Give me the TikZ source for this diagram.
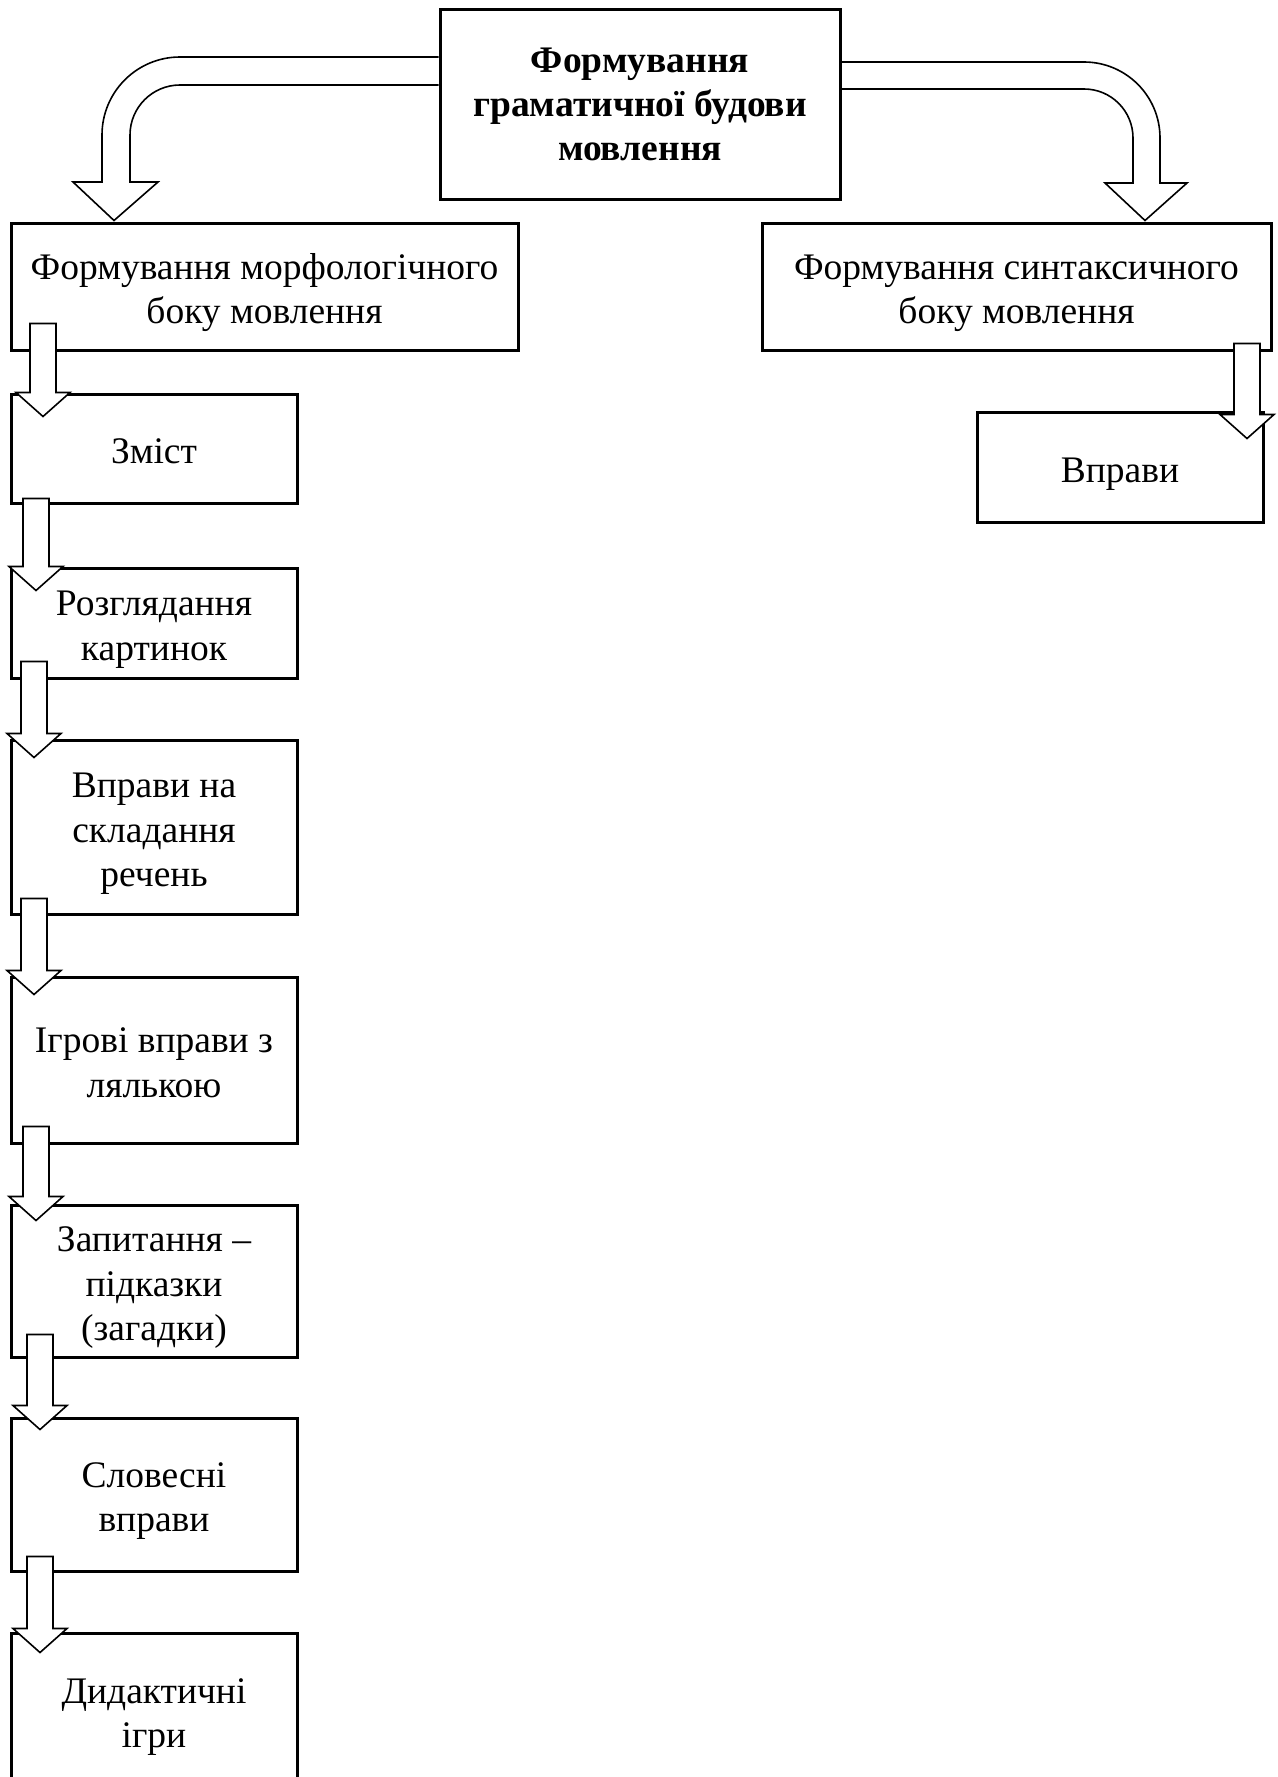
\documentclass[tikz,border=0pt]{standalone}
\usepackage{fontspec}
\setmainfont{Liberation Serif}
\usetikzlibrary{calc}
\newcommand\blkarrow[5]{%
 \draw[blk] let \p1=(#1.south), \p2=(#2.north) in
  ({#3pt-13pt},{\y1+(#4pt)}) -- ({#3pt+13pt},{\y1+(#4pt)}) -- ({#3pt+13pt},{\y2+(#5pt)})
  -- ({#3pt+27pt},{\y2+(#5pt)}) -- (#3pt,{\y2+(#5pt)-24pt}) -- ({#3pt-27pt},{\y2+(#5pt)})
  -- ({#3pt-13pt},{\y2+(#5pt)}) -- cycle;}
\newcommand\bs{\rule{0pt}{39.25pt}}
\newcommand\be{\rule[-9pt]{0pt}{9pt}}
\begin{document}
\begin{tikzpicture}[x=1pt,y=-1pt,
  box/.style={draw, line width=3pt, rectangle, inner sep=0pt, align=center,
    font=\fontsize{37.5}{44.5}\selectfont},
  lbox/.style={box, minimum width=286},
  blk/.style={draw, line width=1.6pt, fill=white, line join=miter},
  arr/.style={draw, line width=1.6pt, line join=miter}]
\clip (0,0) rectangle (1277,1777);
\fill[white] (0,0) rectangle (1277,1777);
% boxes
\node[box, minimum width=400, minimum height=189,
  font=\bfseries\fontsize{37.5}{44}\selectfont] (top) at (640,104.5)
  {Формування\\граматичної будови\\мовлення};
\node[box, minimum width=507, minimum height=127] (morph) at (264.5,286.5)
  {\bs Формування морфологічного\\боку мовлення\be};
\node[box, minimum width=509, minimum height=127] (synt) at (1016.5,286.5)
  {\bs Формування синтаксичного\\боку мовлення\be};
\node[box, minimum width=286, minimum height=110] (vpr) at (1120,467) {\bs Вправи\be};
\node[lbox, minimum height=109] (zmist) at (154,448.5) {\bs Зміст\be};
\node[lbox, minimum height=110] (rozgl) at (154,623) {\bs Розглядання\\картинок\be};
\node[lbox, minimum height=174] (sklad) at (154,827) {\bs Вправи на\\складання\\речень\be};
\node[lbox, minimum height=166] (igr) at (154,1060) {\bs Ігрові вправи з\\лялькою\be};
\node[lbox, minimum height=152] (zap) at (154,1281) {\bs Запитання –\\підказки\\(загадки)\be};
\node[lbox, minimum height=153] (slov) at (154,1494.5) {\bs Словесні\\вправи\be};
\node[lbox, minimum height=155] (dyd) at (154,1710.5) {\bs Дидактичні\\ігри\be};
% curved block arrows
\draw[arr] ([yshift=47.5pt]top.west) -- (180,57)
  .. controls (136.9,57) and (102,91.9) .. (102,135) -- (102,182) -- (73,182)
  -- ($(morph.north west)+(104.5,-1)$) -- (158,182) -- (130,182) -- (130,135)
  .. controls (130,107.4) and (152.4,85) .. (180,85) -- ([yshift=19.5pt]top.west);
\draw[arr] ([yshift=42.5pt]top.east) -- (1084,62)
  .. controls (1126,62) and (1160,96) .. (1160,138) -- (1160,183) -- (1187,183)
  -- ($(synt.north west)+(384.5,-1)$) -- (1105,183) -- (1133,183) -- (1133,138)
  .. controls (1133,110.9) and (1111.1,89) .. (1084,89) -- ([yshift=15.5pt]top.east);
% straight block arrows
\blkarrow{morph}{zmist}{43}{28}{0}
\blkarrow{zmist}{rozgl}{36}{6}{0}
\blkarrow{rozgl}{sklad}{34}{18}{5}
\blkarrow{sklad}{igr}{34}{17}{5}
\blkarrow{igr}{zap}{36}{18}{7}
\blkarrow{zap}{slov}{40}{24}{11}
\blkarrow{slov}{dyd}{40}{16}{3}
\blkarrow{synt}{vpr}{1247}{8}{-4}
\end{tikzpicture}
\end{document}
